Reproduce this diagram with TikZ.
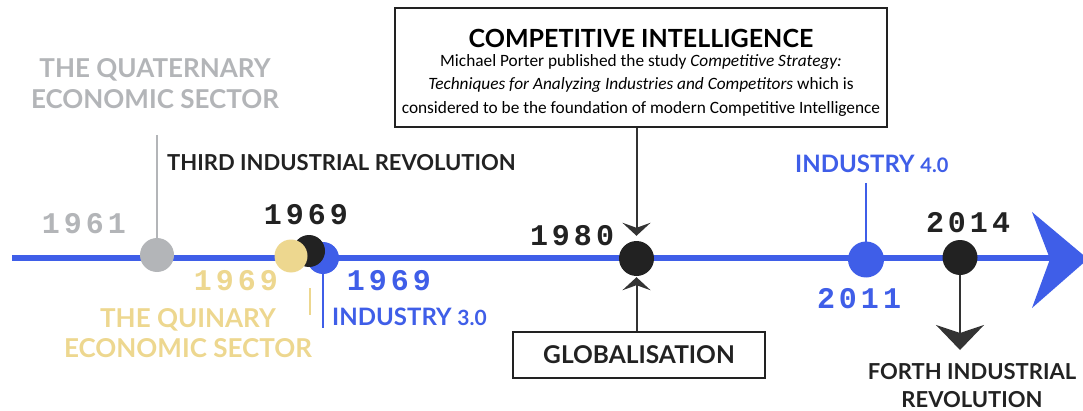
\documentclass[tikz,border=0pt]{standalone}
\usepackage{fontspec}
\setmainfont{Lato}
\newfontfamily\yearfont{Liberation Mono}
\newfontfamily\notefont{Carlito}
\usetikzlibrary{arrows.meta}

\definecolor{lineblue}{HTML}{3F5EE8}
\definecolor{softgray}{HTML}{B3B5B8}
\definecolor{softyellow}{HTML}{EDD78F}
\definecolor{inkblack}{HTML}{222222}
\definecolor{darkline}{HTML}{333333}

% spread the four digits of a year
\newcommand\spacedyear[4]{#1\kern4pt#2\kern4pt#3\kern4pt#4}

\begin{document}
\begin{tikzpicture}[x=1pt,y=1pt,
  head/.style={inner sep=0pt, align=center},
  yearlbl/.style={inner sep=0pt, font=\yearfont\bfseries\fontsize{30}{30}\selectfont},
  dot/.style={circle, inner sep=0pt},
  conn/.style={draw=darkline, line width=2pt},
  smalltip/.style={-{Stealth[length=13pt,width=28pt,inset=5pt]}},
  bigtip/.style={-{Stealth[length=25pt,width=48pt,inset=8pt]}},
  framebox/.style={draw=inkblack, line width=2.2pt, inner sep=0pt}
]
\useasboundingbox (0,0) rectangle (1083,410);

% ---- main time axis ----
\coordinate (tl0) at (12,152);
\coordinate (tl1) at (1052,152);
\draw[lineblue, line width=6pt] (tl0) -- (tl1);
\fill[lineblue] (1032,198) -- (1088,151) -- (1032,102) -- (1050,151) -- cycle;

% ---- boxes ----
\node[framebox, minimum width=492pt, minimum height=119pt, align=center,
      font=\notefont\fontsize{17.3}{23.5}\selectfont] (ci) at (641,342.5)
  {\rule{0pt}{28pt}{\bfseries\fontsize{25}{28}\selectfont\rmfamily COMPETITIVE INTELLIGENCE}\\[-4.5pt]
   Michael Porter published the study \textit{Competitive Strategy:}\\
   \textit{Techniques for Analyzing Industries and Competitors} which is\\
   considered to be the foundation of modern Competitive Intelligence};
\node[framebox, minimum width=252pt, minimum height=46pt,
      font=\bfseries\fontsize{24.5}{28}\selectfont, text=inkblack] (glob) at (639,55) {GLOBALISATION};

% ---- event dots ----
\node[dot, minimum size=34pt] (y61) at (157,155) {};
\node[dot, minimum size=32pt] (y69b) at (323,152) {};
\node[dot, minimum size=32pt] (y69k) at (309,159) {};
\node[dot, minimum size=33pt] (y69y) at (291,154) {};
\node[dot, minimum size=35pt] (c80) at (636.5,151.5) {};
\node[dot, minimum size=36pt] (y11) at (866,150.5) {};
\node[dot, minimum size=35pt] (y14) at (960,152.5) {};

% ---- stems ----
\coordinate (qtop) at (157,275);
\draw[softgray, line width=2pt] (qtop) -- (y61.center);
\coordinate (qy1) at (310,122);
\coordinate (qy2) at (310,95);
\draw[softyellow, line width=2pt] (qy1) -- (qy2);
\coordinate (i3end) at (323,82);
\draw[lineblue, line width=2pt] (y69b.center) -- (i3end);
\coordinate (i4top) at (866,227);
\draw[lineblue, line width=2pt] (i4top) -- (y11.center);

% ---- arrows ----
\draw[conn, smalltip, fill=inkblack, shorten >=5pt] (ci.south -| c80) -- (c80);
\draw[conn, smalltip, fill=inkblack, shorten >=1pt] (glob.north -| c80) -- (c80);
\coordinate (f4end) at (960,60);
\draw[conn, bigtip, fill=inkblack] (y14.center) -- (f4end);

% ---- dots painted over the stems ----
\fill[softgray] (y61) circle (17pt);
\fill[lineblue] (y69b) circle (16pt);
\fill[inkblack] (y69k) circle (16pt);
\fill[softyellow] (y69y) circle (16.5pt);
\fill[inkblack] (c80) circle (17.5pt);
\fill[lineblue] (y11) circle (18pt);
\fill[inkblack] (y14) circle (17.5pt);

% ---- years ----
\node[yearlbl, text=softgray] (t61) at (84,186.5) {\spacedyear1961};
\node[yearlbl, text=inkblack] (t69k) at (306,195) {\spacedyear1969};
\node[yearlbl, text=softyellow] (t69y) at (236,129) {\spacedyear1969};
\node[yearlbl, text=lineblue] (t69b) at (389,129) {\spacedyear1969};
\node[yearlbl, text=inkblack] (t80) at (572,174) {\spacedyear1980};
\node[yearlbl, text=lineblue] (t11) at (859,111) {\spacedyear2011};
\node[yearlbl, text=inkblack] (t14) at (968,187.5) {\spacedyear2014};

% ---- captions ----
\node[head, anchor=north, text=softgray, font=\bfseries\fontsize{26}{31}\selectfont] (quat) at (155,352)
  {THE QUATERNARY\\ECONOMIC SECTOR};
\node[head, anchor=north west, text=inkblack, font=\bfseries\fontsize{22}{26}\selectfont] (third) at (167,256)
  {THIRD INDUSTRIAL REVOLUTION};
\node[head, anchor=north, text=softyellow, font=\bfseries\fontsize{26}{30}\selectfont] (quin) at (188,102)
  {THE QUINARY\\ECONOMIC SECTOR};
\node[head, anchor=north west, text=lineblue, font=\bfseries\fontsize{24}{28}\selectfont] (ind3) at (332,102)
  {INDUSTRY {\fontsize{21}{21}\selectfont 3.0}};
\node[head, anchor=north west, text=lineblue, font=\bfseries\fontsize{24}{28}\selectfont] (ind4) at (795,255)
  {INDUSTRY {\fontsize{20}{20}\selectfont 4.0}};
\node[head, anchor=north, text=inkblack, font=\bfseries\fontsize{22}{28}\selectfont] (forth) at (972,47)
  {FORTH INDUSTRIAL\\REVOLUTION};
\end{tikzpicture}
\end{document}
